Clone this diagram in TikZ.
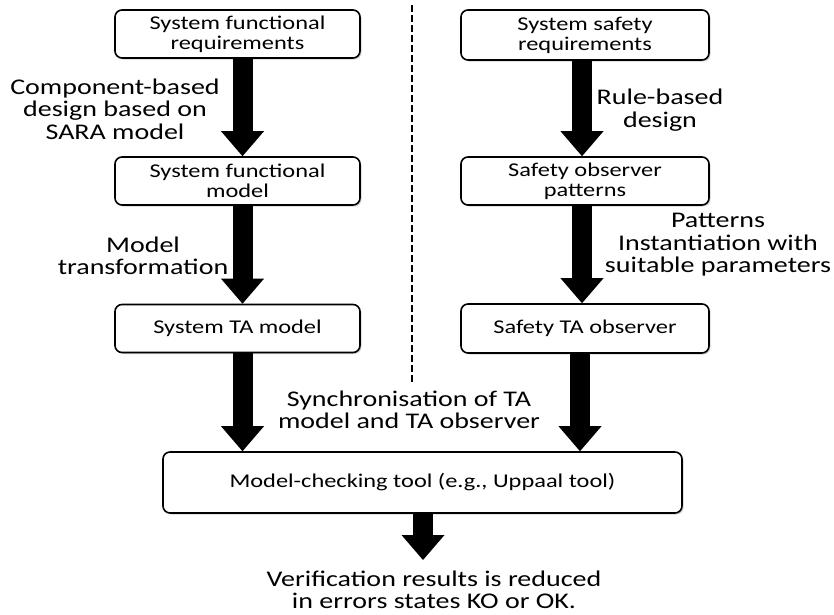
\documentclass[tikz,border=0pt]{standalone}
\usepackage{fontspec}
\setmainfont{Carlito}[FakeStretch=1.25]
\usepackage{tikz}
\usetikzlibrary{arrows.meta, shadows, positioning}
\tikzstyle{staterect}=[shape=rectangle,draw=black,line width=1.6pt,rounded corners=7pt,fill=white,align=center,inner sep=2pt,font=\fontsize{19.5}{20}\selectfont,drop shadow={shadow xshift=1.5pt,shadow yshift=-1.5pt,opacity=0.35}]
\tikzstyle{mainedge}=[line width=20pt,-{Triangle[length=25pt,width=43pt,line width=0pt]}]
\tikzstyle{steplabel}=[align=center,font=\fontsize{22.4}{22.5}\selectfont]
\tikzstyle{divider}=[line width=2.5pt,dash pattern=on 7pt off 3pt]

\begin{document}
\begin{tikzpicture}[x=1pt,y=-1pt]
\useasboundingbox (0,0) rectangle (834,614);
% 1st column
\node[staterect,minimum width=245pt,minimum height=48pt] (n0_0) at (237.5,34) {System functional\\requirements};
\node[staterect,minimum width=245pt,minimum height=48pt] (n0_1) at (237.5,181) {System functional\\model};
\node[staterect,minimum width=245pt,minimum height=48pt] (n0_2) at (237.5,328.5) {System TA model};
\draw[mainedge] ([xshift=5pt]n0_0.south) -- ([xshift=5pt]n0_1.north);
\draw[mainedge] ([xshift=5pt]n0_1.south) -- ([xshift=5pt]n0_2.north);
\node[steplabel] (l0_0) at (115,109) {Component-based\\design based on\\SARA model};
\node[steplabel] (l0_1) at (143,256) {Model\\transformation};

% 2nd column
\node[staterect,minimum width=248pt,minimum height=50pt] (n1_0) at (585,35) {System safety\\requirements};
\node[staterect,minimum width=248pt,minimum height=48pt] (n1_1) at (585,181) {Safety observer\\patterns};
\node[staterect,minimum width=248pt,minimum height=49pt] (n1_2) at (585,328.5) {Safety TA observer};
\draw[mainedge] ([xshift=-3pt]n1_0.south) -- ([xshift=-3pt]n1_1.north);
\draw[mainedge] ([xshift=-3pt]n1_1.south) -- ([xshift=-3pt]n1_2.north);
\node[steplabel] (l1_0) at (660,110) {Rule-based\\design};
\node[steplabel] (l1_1) at (718,245) {Patterns\\Instantiation with\\suitable parameters};

% separation
\coordinate (d0) at (412,5);
\coordinate (d1) at (412,385);
\draw[divider] (d0) -- (d1);

% verification
\node[staterect,minimum width=519pt,minimum height=61pt] (n2) at (422.5,482.5) {Model-checking tool (e.g., Uppaal tool)};
\draw[mainedge] ([xshift=5pt]n0_2.south) -- ([xshift=5pt]n0_2.south |- n2.north);
\draw[mainedge] ([xshift=-5pt]n1_2.south) -- ([xshift=-5pt]n1_2.south |- n2.north);
\node[steplabel] (l2) at (409,410) {Synchronisation of TA\\model and TA observer};
\coordinate (res) at (423,560);
\draw[mainedge] (n2.south -| res) -- (res);
\node[steplabel,inner sep=1pt] (out) at (434,590) {Verification results is reduced\\in errors states KO or OK.};

\end{tikzpicture}
\end{document}
